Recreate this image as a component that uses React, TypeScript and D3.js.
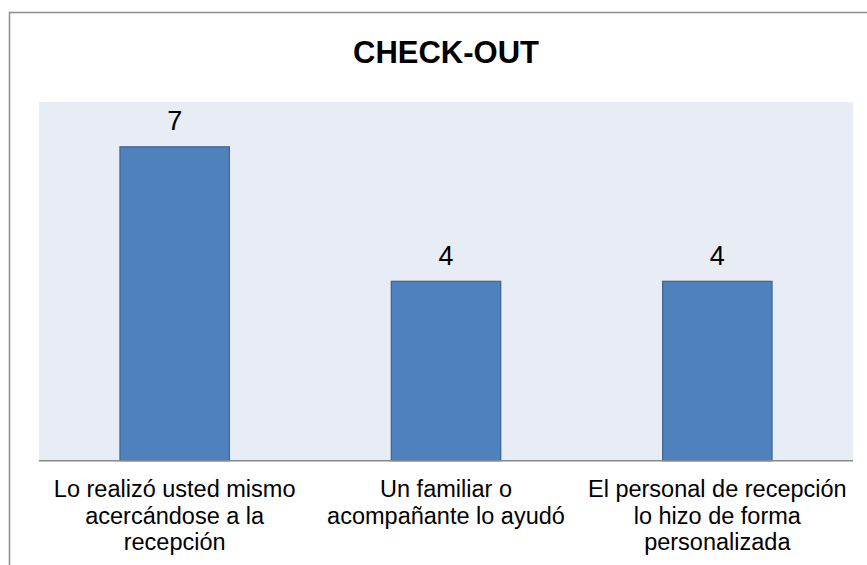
import React from "react";
import * as d3 from "d3";

const categories: string[][] = [
  ["Lo realizó usted mismo", "acercándose a la", "recepción"],
  ["Un familiar o", "acompañante lo ayudó"],
  ["El personal de recepción", "lo hizo de forma", "personalizada"],
];
const values: number[] = [7, 4, 4];
const yMax = 8;
const title = "CHECK-OUT";

export default function App() {
  const W = 867, H = 565;
  const plot = { left: 39, right: 853, top: 102, bottom: 460.7 };
  const x = d3
    .scaleBand<number>()
    .domain(categories.map((_, i) => i))
    .range([plot.left, plot.right])
    .paddingInner(0.597)
    .paddingOuter(0.2985);
  const y = d3.scaleLinear().domain([0, yMax]).range([plot.bottom, plot.top]);
  const font = "Arial, 'Liberation Sans', sans-serif";
  return (
    <svg
      width={W}
      height={H}
      style={{ position: "absolute", left: 0, top: 0, background: "#fff" }}
    >
      <rect x={9.5} y={12.5} width={900} height={600} fill="#fff" stroke="#8c8c8c" strokeWidth={1.5} />
      <text x={(plot.left + plot.right) / 2} y={63} textAnchor="middle" fontFamily={font} fontWeight="bold" fontSize={31} fill="#000">
        {title}
      </text>
      <rect x={plot.left} y={plot.top} width={plot.right - plot.left} height={plot.bottom - plot.top} fill="#E8ECF4" />
      {values.map((v, i) => (
        <g key={i}>
          <rect
            x={x(i)!}
            y={y(v)}
            width={x.bandwidth()}
            height={y(0) - y(v)}
            fill="#4F81BD"
            stroke="#3F6796"
            strokeWidth={1.3}
          />
          <text x={x(i)! + x.bandwidth() / 2} y={y(v) - 16.5} textAnchor="middle" fontFamily={font} fontSize={27} fill="#000">
            {v}
          </text>
        </g>
      ))}
      <line x1={plot.left} x2={plot.right} y1={plot.bottom} y2={plot.bottom} stroke="#888" strokeWidth={1.5} />
      {categories.map((lines, i) => (
        <text key={i} textAnchor="middle" fontFamily={font} fontSize={23.5} fill="#000">
          {lines.map((l, j) => (
            <tspan key={j} x={x(i)! + x.bandwidth() / 2} y={497 + j * 26.6}>
              {l}
            </tspan>
          ))}
        </text>
      ))}
    </svg>
  );
}
